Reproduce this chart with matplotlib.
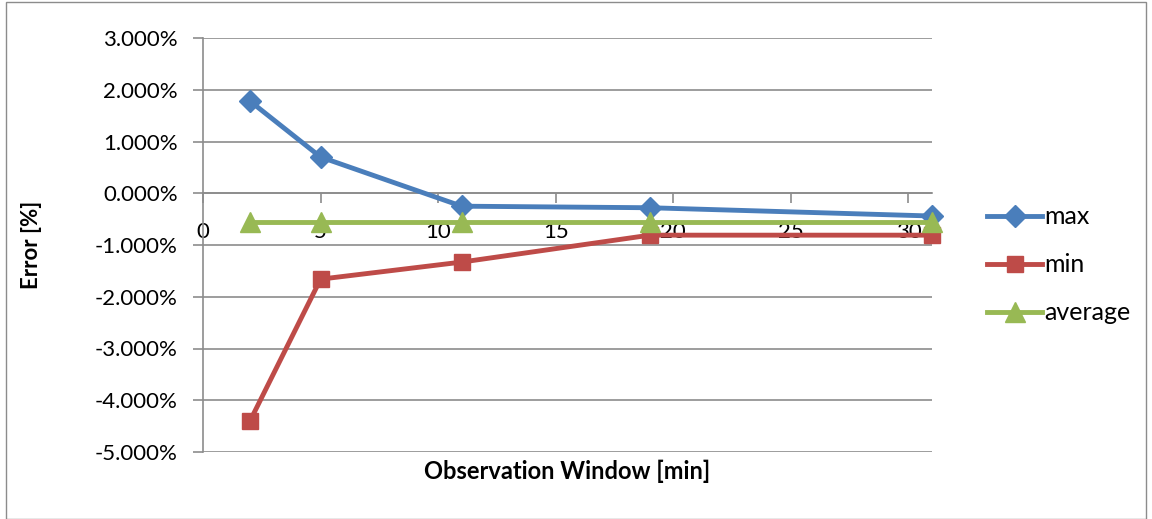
import matplotlib
matplotlib.use("Agg")
import matplotlib.pyplot as plt
from matplotlib.patches import Rectangle
from matplotlib.ticker import FuncFormatter, MultipleLocator

window = [2, 5, 11, 19, 31]
err_max = [1.78, 0.70, -0.25, -0.28, -0.44]
err_min = [-4.40, -1.66, -1.33, -0.81, -0.81]
err_avg = [-0.56, -0.56, -0.56, -0.56, -0.56]

plt.rcParams['font.family'] = ['Lato', 'DejaVu Sans']

fig = plt.figure(figsize=(11.52, 5.19), dpi=100)
ax = fig.add_axes([203/1152, 1-452/519, (932-203)/1152, (452-38)/519])

fig.patches.append(Rectangle((6/1152, 1-519/519), (1146-6)/1152, (519-7)/519 + 0.01,
                             transform=fig.transFigure, fill=False,
                             edgecolor='#8c8c8c', linewidth=1.0))

blue, red, green = '#4A7EBB', '#BE4B48', '#98B954'
ax.plot(window, err_max, color=blue, lw=3.5, marker='D', ms=11, label='max', zorder=4, clip_on=False)
ax.plot(window, err_min, color=red, lw=3.5, marker='s', ms=12, label='min', zorder=4, clip_on=False)
ax.plot(window, err_avg, color=green, lw=3.5, marker='^', ms=14, label='average', zorder=5, clip_on=False)

ax.set_xlim(0, 31)
ax.set_ylim(-5, 3)
ax.xaxis.set_major_locator(MultipleLocator(5))
ax.yaxis.set_major_locator(MultipleLocator(1))
ax.yaxis.set_major_formatter(FuncFormatter(lambda v, p: f"{v:.3f}%"))
ax.grid(axis='y', color='#8c8c8c', lw=1.2)
ax.set_axisbelow(True)
for s in ['top', 'right']:
    ax.spines[s].set_visible(False)
ax.spines['bottom'].set_position(('data', 0))
ax.spines['left'].set_color('#8c8c8c')
ax.spines['bottom'].set_color('#8c8c8c')
ax.spines['left'].set_linewidth(1.2)
ax.spines['bottom'].set_linewidth(1.2)
ax.tick_params(axis='both', colors='#8c8c8c', labelcolor='black', labelsize=16, length=7, width=1.2)
ax.tick_params(axis='x', direction='out', pad=14)
ax.tick_params(axis='y', direction='out', pad=11)

ax.set_xlabel('Observation Window [min]', fontsize=17, fontweight='bold', labelpad=0)
ax.xaxis.set_label_coords(0.5, -0.018)
ax.set_ylabel('Error [%]', fontsize=16, fontweight='bold')
ax.yaxis.set_label_coords((42-203)/(932-203), (519-245-67)/(452-38))

fig.legend(loc='center left', bbox_to_anchor=(977/1152, 1-265/519), frameon=False,
           fontsize=18, handlelength=2.2, handletextpad=0.1, labelspacing=1.0,
           borderaxespad=0)

fig.savefig('out.png', dpi=100)
